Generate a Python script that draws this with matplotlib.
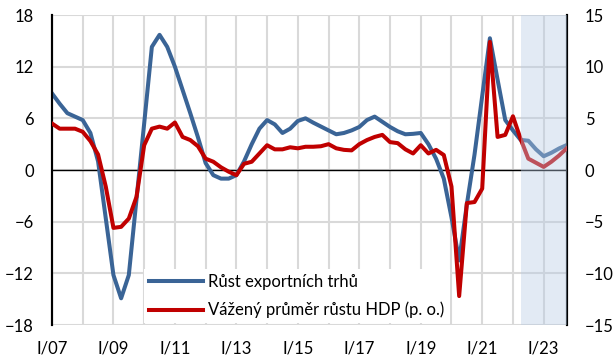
#Export markets growth vs weighted GDP growth, quarterly I/07 - IV/23
import matplotlib
matplotlib.use("Agg")
from matplotlib import pyplot as plt

##quarters from I/07 to IV/23 (68 values)
quarters = [f"{q}/{y:02d}" for y in range(7, 24) for q in ("I", "II", "III", "IV")]

#growth of export markets, left axis [%]
export_markets = [8.9, 7.7, 6.6, 6.2, 5.8, 4.3, 1.0, -5.6,
                  -12.2, -14.9, -12.2, -3.4, 5.4, 14.3, 15.7, 14.3,
                  12.0, 9.3, 6.6, 3.8, 0.8, -0.6, -1.0, -1.0,
                  -0.6, 1.0, 3.0, 4.8, 5.8, 5.3, 4.3, 4.8,
                  5.7, 6.0, 5.5, 5.05, 4.6, 4.15, 4.3, 4.6,
                  5.0, 5.8, 6.2, 5.6, 5.0, 4.5, 4.15, 4.2,
                  4.3, 3.0, 1.3, -1.0, -5.5, -10.5, -4.0, 1.8,
                  8.6, 15.3, 10.5, 5.8, 4.6, 3.5, 3.4, 2.4,
                  1.6, 2.0, 2.5, 2.9]

#weighted average of GDP growth, right axis [%]
weighted_gdp = [4.5, 4.0, 4.0, 4.0, 3.7, 2.8, 1.5, -1.6,
                -5.6, -5.5, -4.7, -2.6, 2.4, 4.0, 4.2, 4.0,
                4.6, 3.2, 2.9, 2.3, 1.1, 0.8, 0.26, -0.16,
                -0.5, 0.6, 0.8, 1.6, 2.4, 2.0, 2.0, 2.2,
                2.1, 2.25, 2.25, 2.3, 2.5, 2.1, 1.95, 1.9,
                2.5, 2.9, 3.2, 3.4, 2.7, 2.6, 2.0, 1.6,
                2.4, 1.6, 1.95, 1.45, -1.6, -12.2, -3.2, -3.1,
                -1.8, 12.4, 3.2, 3.4, 5.2, 3.0, 1.1, 0.7,
                0.3, 0.8, 1.4, 2.1]

left_ticks = [-18, -12, -6, 0, 6, 12, 18]
right_ticks = [-15, -10, -5, 0, 5, 10, 15]
forecast_start = "II/22"     #start of the shaded (forecast) period

plt.rcParams['font.family'] = ['Lato', 'DejaVu Sans']
plt.rcParams['font.size'] = 12

blue = '#3a6496'
red = '#c00000'
grid_col = '#d9d9d9'

x = list(range(len(quarters)))

fig = plt.figure(figsize=(6.13, 3.6), dpi=100)
ax1 = fig.add_axes([0.0848, 0.0972, 0.8397, 0.8611])
ax2 = ax1.twinx()

#grid: horizontal on every y tick, vertical every year
for v in left_ticks:
    ax1.axhline(v, color=grid_col, lw=1.5, zorder=0)
for i in range(0, len(quarters), 4):
    ax1.axvline(i, color=grid_col, lw=1.5, zorder=0)
ax1.axhline(0, color='black', lw=1.0, zorder=1)

l1, = ax1.plot(x, export_markets, color=blue, lw=2.9, zorder=3, solid_joinstyle='round')
l2, = ax2.plot(x, weighted_gdp, color=red, lw=2.9, zorder=3, solid_joinstyle='round')

#shaded forecast period drawn over the lines
fs = quarters.index(forecast_start)
ax2.axvspan(fs, len(quarters) - 1, color='#b8cce4', alpha=0.4, lw=0, zorder=5)

ax1.set_xlim(0, len(quarters) - 1)
ax1.set_ylim(-18, 18)
ax2.set_ylim(-15, 15)
ax1.set_yticks(left_ticks)
ax2.set_yticks(right_ticks)
ax1.set_xticks(x[::8])
ax1.set_xticklabels(quarters[::8])

ax1.tick_params(axis='y', length=0, pad=13)
ax2.tick_params(axis='y', length=0, pad=13)
ax1.tick_params(axis='x', length=0, pad=11)

for ax in (ax1, ax2):
    ax.spines['top'].set_visible(False)
    ax.spines['bottom'].set_visible(False)
    ax.spines['left'].set_color('black')
    ax.spines['right'].set_color('black')
    ax.spines['left'].set_linewidth(1.5)
    ax.spines['right'].set_linewidth(1.5)
    ax.patch.set_visible(False)

leg = ax2.legend([l1, l2], ['Růst exportních trhů', 'Vážený průměr růstu HDP (p. o.)'],
                 loc='lower left', bbox_to_anchor=(0.163, -0.022), frameon=True,
                 fancybox=False, edgecolor='none', framealpha=1.0,
                 handlelength=3.2, handletextpad=0.35, labelspacing=0.7,
                 borderpad=0.3)
leg.set_zorder(6)

fig.savefig('out.png', dpi=100)
